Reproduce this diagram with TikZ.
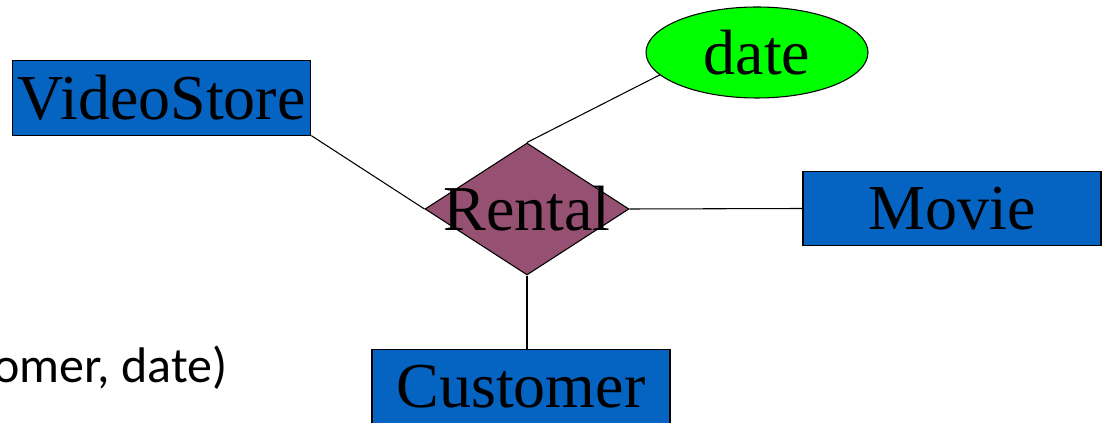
\documentclass[tikz,border=0pt]{standalone}
\usepackage{fontspec}
\setmainfont{Liberation Serif}
\newfontfamily\notefont{Carlito}
\usetikzlibrary{shapes.geometric}
\definecolor{entityblue}{RGB}{5,99,193}
\definecolor{relmauve}{RGB}{149,80,114}
\definecolor{attrgreen}{RGB}{0,255,0}
\begin{document}
\begin{tikzpicture}[x=0.75pt,y=0.75pt,yscale=-1,xscale=1,
    entity/.style={draw, line width=0.8pt, fill=entityblue, minimum width=223.5pt, minimum height=56pt, inner sep=0pt, font=\fontsize{48}{50}\selectfont},
    relation/.style={draw, line width=0.8pt, fill=relmauve, shape=diamond, minimum width=153pt, minimum height=99pt, inner sep=0pt},
    attribute/.style={draw, line width=0.8pt, fill=attrgreen, shape=ellipse, minimum width=166.5pt, minimum height=68.25pt, inner sep=0pt, font=\fontsize{48}{50}\selectfont},
    link/.style={line width=0.8pt}]
    \useasboundingbox (0,0) rectangle (1103,423);
    % Text Node
    \draw (-7,383) node [anchor=base west][inner sep=0pt] (note) {\notefont\fontsize{37.5}{40}\selectfont omer, date)};
    \node [relation] (Rental) at (527,209) {};
    \node [inner sep=0pt, font=\fontsize{48}{50}\selectfont] (rentaltext) at (Rental.center) {Rental};
    \node [entity] (VideoStore) at (161.75,97.75) {VideoStore};
    \node [entity] (Movie) at (952,208.5) {Movie};
    \node [entity] (Customer) at (521,386.5) {Customer};
    \node [attribute] (date) at (757,52.5) {date};
    \draw [link] (VideoStore.south east) -- (Rental.west);
    \draw [link] (Rental.north) -- (date.193);
    \draw [link] (Rental.east) -- (Movie.west);
    \draw [link] (Rental.south) -- (Rental.south |- Customer.north);
\end{tikzpicture}
\end{document}
